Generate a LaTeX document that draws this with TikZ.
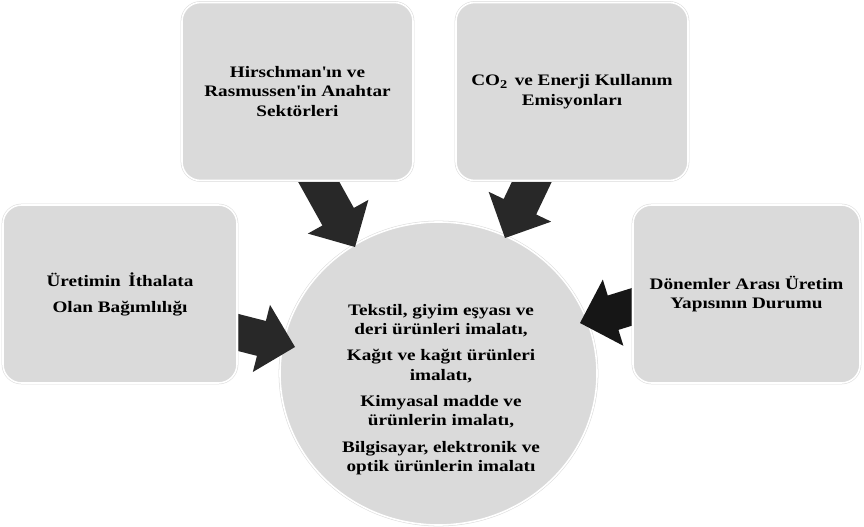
\documentclass[tikz,border=0pt]{standalone}
\usepackage{fontspec}
\setmainfont{Liberation Serif}[FakeStretch=1.2]
\usetikzlibrary{calc,shapes.geometric}
\pgfdeclarelayer{bg}
\pgfdeclarelayer{mid}
\pgfsetlayers{bg,mid,main}
\definecolor{boxgray}{RGB}{218,218,218}
\definecolor{arrowdark}{RGB}{40,40,40}
\definecolor{arrowblack}{RGB}{22,22,22}
\tikzset{
  lbl/.style={font=\bfseries\fontsize{12}{14.6}\selectfont, align=center, text=black},
  rim/.style={preaction={draw=gray!28, line width=2pt}, draw=white, line width=1.2pt},
  panel/.style={rectangle, rounded corners=14pt, fill=boxgray, rim, lbl, inner sep=0pt, minimum height=133.5pt},
  hub/.style={ellipse, fill=boxgray, rim, inner sep=0pt, minimum width=237.75pt, minimum height=227.25pt},
  fat/.style={fill=arrowdark},
}
\newcommand\fatarrow[3][]{%
  \coordinate (fa-h) at ($(#3)!26pt!(#2)$);
  \fill[fat,#1] ($(#2)!13.5pt!90:(#3)$) -- ($(fa-h)!13.5pt!90:(#3)$) -- ($(fa-h)!26pt!90:(#3)$)
    -- (#3) -- ($(fa-h)!26pt!-90:(#3)$) -- ($(fa-h)!13.5pt!-90:(#3)$) -- ($(#2)!13.5pt!-90:(#3)$) -- cycle;
}
\begin{document}
\begin{tikzpicture}[x=0.75pt, y=-0.75pt]
  \useasboundingbox (0,0) rectangle (864,527);
  \begin{pgfonlayer}{bg}
    \node[hub] (hub) at (438.5,373.5) {};
  \end{pgfonlayer}
  \node[lbl] (hubtext) at ($(hub.center)+(2.5,16)$) {Tekstil, giyim eşyası ve\\deri ürünleri imalatı,\\[5pt]Kağıt ve kağıt ürünleri\\imalatı,\\[5pt]Kimyasal madde ve\\ürünlerin imalatı,\\[5pt]Bilgisayar, elektronik ve\\optik ürünlerin imalatı};
  \node[panel, minimum width=173.25pt] (hirsch) at (297.5,91.5) {Hirschman\textquotesingle ın ve\\Rasmussen\textquotesingle in Anahtar\\Sektörleri};
  \node[panel, minimum width=174pt] (co2) at (572,91.5) {CO\raisebox{-0.35ex}{\fontsize{9}{10}\selectfont 2}\, ve Enerji Kullanım\\Emisyonları};
  \node[panel, minimum width=175.5pt] (import) at (120,294) {Üretimin\, İthalata\\[5pt]Olan Bağımlılığı};
  \node[panel, minimum width=170.25pt] (period) at (746.5,294) {Dönemler Arası Üretim\\Yapısının Durumu};
  \begin{pgfonlayer}{mid}
    \coordinate (s1) at ($(hirsch.south)+(7,-25)$);
    \coordinate (t1) at ($(hub.center)+(-83.5,-126.5)$);
    \coordinate (s2) at ($(co2.south)+(-28,-25)$);
    \coordinate (t2) at ($(hub.center)+(66.5,-135.5)$);
    \coordinate (s3) at ($(import.east)+(-25,32)$);
    \coordinate (t3) at ($(hub.center)+(-143.5,-26.5)$);
    \coordinate (s4) at ($(period.west)+(25,5)$);
    \coordinate (t4) at ($(hub.center)+(141.5,-50.5)$);
    \fatarrow{s1}{t1}
    \fatarrow{s2}{t2}
    \fatarrow{s3}{t3}
    \fatarrow[fill=arrowblack]{s4}{t4}
  \end{pgfonlayer}
\end{tikzpicture}
\end{document}
